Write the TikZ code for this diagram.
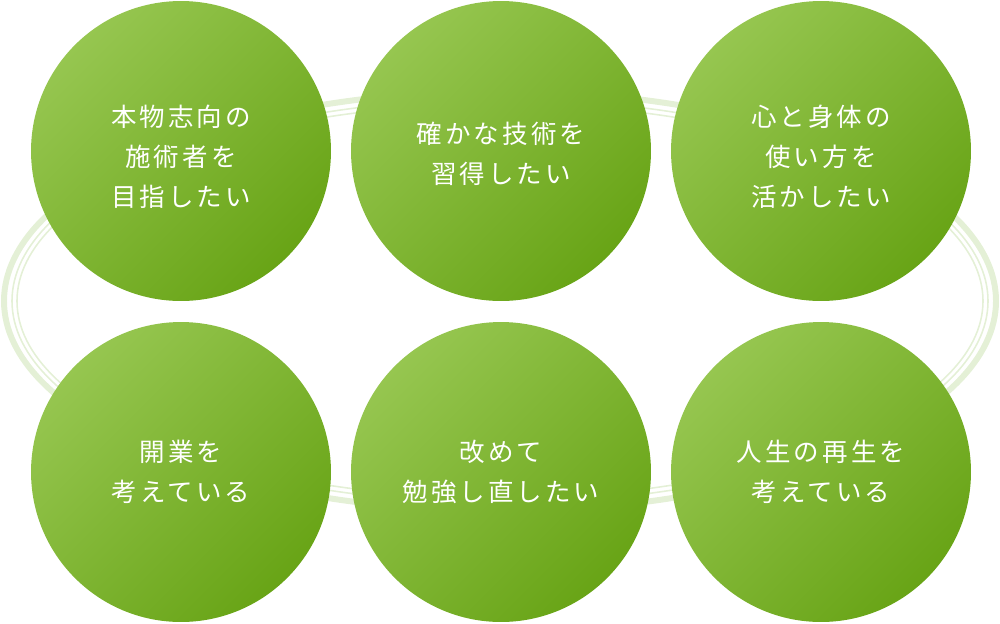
\documentclass[tikz,border=0pt]{standalone}
\usepackage{fontspec}
\newfontfamily\jpfont[LetterSpace=12]{Noto Sans CJK JP}
\definecolor{gLight}{RGB}{150,198,80}
\definecolor{gDark}{RGB}{104,164,22}
\definecolor{ringGreen}{RGB}{228,240,214}

\begin{document}
\begin{tikzpicture}[
    x=0.02cm, y=-0.02cm,
    bubble/.style={circle, minimum size=6cm, inner sep=0pt,
        top color=gLight, bottom color=gDark, shading angle=45},
    caption/.style={text=white, align=center, inner sep=0pt,
        font=\jpfont\fontsize{14.5}{22.8}\selectfont},
    ringthick/.style={draw=ringGreen, line width=3.4pt},
    ringthin/.style={draw=ringGreen, line width=0.9pt},
]
\useasboundingbox (0,0) rectangle (1000,623);
% --- background rings ---
\coordinate (mid) at (500,301);
\draw[ringthick] (mid) ellipse [x radius=496, y radius=210];
\draw[ringthin] (mid) ellipse [x radius=488, y radius=202];
\draw[ringthin] (mid) ellipse [x radius=483, y radius=197];
% --- top row ---
\node[bubble] (real) at (181,151) {};
\node[bubble] (skill) at (501,151) {};
\node[bubble] (body) at (821,151) {};
\node[caption] (realtxt) at ([yshift=-0.12cm]real.center) {本物志向の\\施術者を\\目指したい};
\node[caption] (skilltxt) at ([yshift=-0.06cm]skill.center) {確かな技術を\\習得したい};
\node[caption] (bodytxt) at ([yshift=-0.12cm]body.center) {心と身体の\\使い方を\\活かしたい};
% --- bottom row ---
\node[bubble] (open) at (181,472) {};
\node[bubble] (study) at (501,472) {};
\node[bubble] (life) at (821,472) {};
\node[caption] (opentxt) at (open.center) {開業を\\考えている};
\node[caption] (studytxt) at (study.center) {改めて\\勉強し直したい};
\node[caption] (lifetxt) at (life.center) {人生の再生を\\考えている};
\end{tikzpicture}
\end{document}
